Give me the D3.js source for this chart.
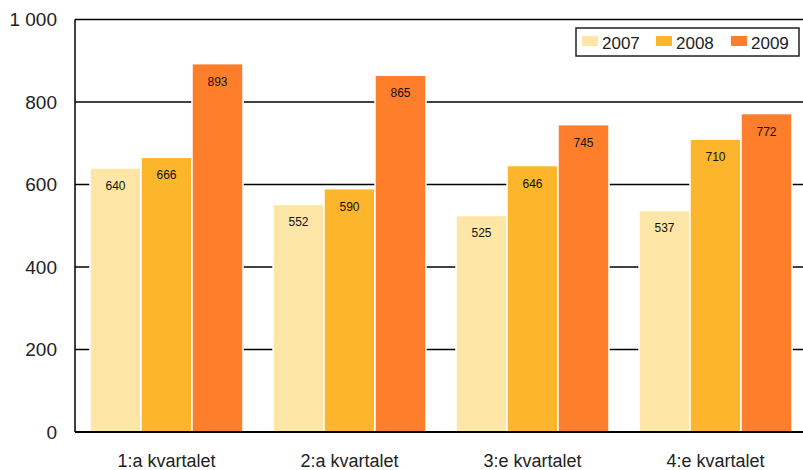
<!DOCTYPE html>
<html><head><meta charset="utf-8">
<script src="https://cdn.jsdelivr.net/npm/d3@7/dist/d3.min.js"></script>
<style>body{margin:0;background:#fff}svg{display:block;font-family:"Liberation Sans",Arial,sans-serif}</style>
</head><body>
<svg id="c" width="803" height="470"></svg>
<script>
const categories = ["1:a kvartalet","2:a kvartalet","3:e kvartalet","4:e kvartalet"];
const seriesNames = ["2007","2008","2009"];
const v2007 = [640,552,525,537];
const v2008 = [666,590,646,710];
const v2009 = [893,865,745,772];
const yTicks = [0,200,400,600,800,1000];
const colors = ["#fee7a6","#fdb62c","#fe7e2c"];
const values = [v2007,v2008,v2009];

const svg = d3.select("#c");
const mLeft = 75, mRight = 807, mTop = 19.5, mBottom = 432;
const x0 = d3.scaleBand().domain(categories).range([mLeft,mRight]).paddingInner(0.164).paddingOuter(0.082);
const x1 = d3.scaleBand().domain(seriesNames).range([0,x0.bandwidth()]);
const y = d3.scaleLinear().domain([0,1000]).range([mBottom,mTop]);
const fmt = d => d >= 1000 ? d3.format(",")(d).replace(",", " ") : String(d);

// gridlines
svg.append("g").selectAll("line").data(yTicks.filter(t=>t>0)).join("line")
  .attr("x1",mLeft).attr("x2",803).attr("y1",d=>y(d)).attr("y2",d=>y(d))
  .attr("stroke","#000").attr("stroke-width",1.4);

// y axis labels
svg.append("g").selectAll("text").data(yTicks).join("text")
  .attr("x",57).attr("y",d=>y(d)).attr("dy","0.36em").attr("text-anchor","end")
  .attr("font-size",19).attr("fill","#222").text(fmt);

// bars
const groups = svg.append("g").selectAll("g").data(categories).join("g")
  .attr("transform",d=>`translate(${x0(d)},0)`);
groups.selectAll("rect").data((c,i)=>seriesNames.map((s,j)=>({s,j,v:values[j][i]}))).join("rect")
  .attr("x",d=>x1(d.s)).attr("width",x1.bandwidth())
  .attr("y",d=>y(d.v)).attr("height",d=>y(0)-y(d.v))
  .attr("fill",d=>colors[d.j]).attr("stroke","#fff").attr("stroke-width",1.5);
groups.selectAll("text").data((c,i)=>seriesNames.map((s,j)=>({s,j,v:values[j][i]}))).join("text")
  .attr("x",d=>x1(d.s)+x1.bandwidth()/2).attr("y",d=>y(d.v)+22)
  .attr("text-anchor","middle").attr("font-size",12).attr("fill","#111").text(d=>d.v);

// axes lines
svg.append("line").attr("x1",mLeft).attr("x2",mLeft).attr("y1",mTop).attr("y2",mBottom)
  .attr("stroke","#000").attr("stroke-width",1.5);
svg.append("line").attr("x1",mLeft).attr("x2",803).attr("y1",mBottom).attr("y2",mBottom)
  .attr("stroke","#000").attr("stroke-width",2);

// x labels
svg.append("g").selectAll("text").data(categories).join("text")
  .attr("x",d=>x0(d)+x0.bandwidth()/2).attr("y",467).attr("text-anchor","middle")
  .attr("font-size",18).attr("fill","#222").text(d=>d);

// legend
const lg = svg.append("g");
lg.append("rect").attr("x",576).attr("y",28).attr("width",223).attr("height",28)
  .attr("fill","#fff").attr("stroke","#222").attr("stroke-width",1.5);
const lx = [582,656,731];
seriesNames.forEach((s,j)=>{
  lg.append("rect").attr("x",lx[j]).attr("y",36).attr("width",16).attr("height",10).attr("fill",colors[j]);
  lg.append("text").attr("x",lx[j]+20).attr("y",49).attr("font-size",17).attr("fill","#222").text(s);
});
</script>
</body></html>
